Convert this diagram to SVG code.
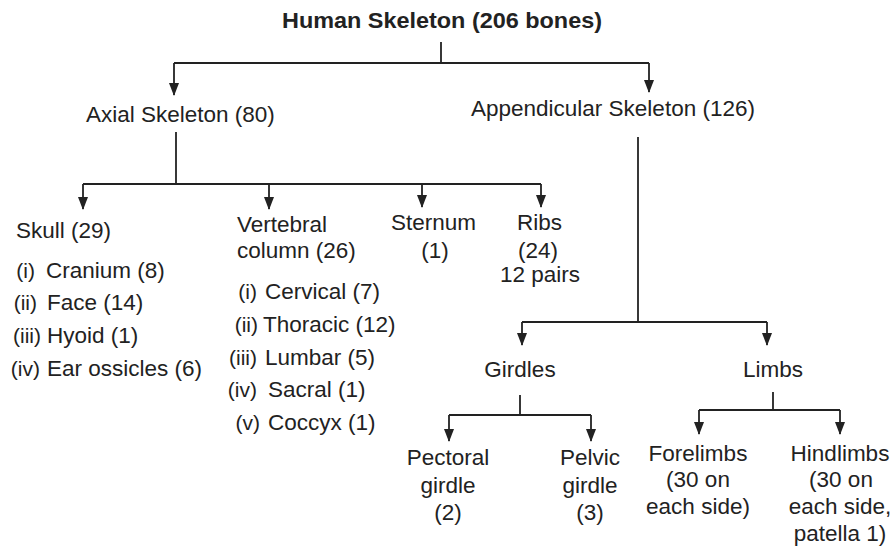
<svg xmlns="http://www.w3.org/2000/svg" width="894" height="550" viewBox="0 0 894 550">
<style>
text{font-family:"Liberation Sans",Arial,sans-serif;font-size:22.5px;fill:#222}
.title{font-weight:bold;font-size:22px}
.num{font-size:21px}
.c{text-anchor:middle}
.e{text-anchor:end}
.ln{fill:none;stroke:#222;stroke-width:1.8}
</style>
<defs>
<marker id="ah" markerUnits="userSpaceOnUse" markerWidth="10" markerHeight="12" viewBox="0 0 10 12" refX="5" refY="12" orient="auto-start-reverse">
<path d="M0,0 L10,0 L5,12 Z" fill="#222" transform="rotate(0)"/>
</marker>
</defs>
<rect width="894" height="550" fill="#fff"/>
<g id="connectors">
<path class="ln" d="M441,42 V63"/>
<path class="ln" d="M174,63 H649"/>
<path class="ln" d="M174,63 V95"/>
<path class="ln" d="M649,63 V92"/>
<path class="ln" d="M176,132 V184"/>
<path class="ln" d="M83,184 H541"/>
<path class="ln" d="M83,184 V209"/>
<path class="ln" d="M269,184 V209"/>
<path class="ln" d="M422,184 V207"/>
<path class="ln" d="M541,184 V207"/>
<path class="ln" d="M638,137 V322"/>
<path class="ln" d="M522,322 H767"/>
<path class="ln" d="M522,322 V345"/>
<path class="ln" d="M767,322 V345"/>
<path class="ln" d="M520,395 V415"/>
<path class="ln" d="M449,415 H591"/>
<path class="ln" d="M449,415 V441"/>
<path class="ln" d="M591,415 V441"/>
<path class="ln" d="M773,392 V410"/>
<path class="ln" d="M699,410 H840"/>
<path class="ln" d="M699,410 V434"/>
<path class="ln" d="M840,410 V434"/>
</g>
<g id="arrowheads" fill="#222">
<path d="M169,83 L179,83 L174,96 Z"/>
<path d="M644,80 L654,80 L649,93 Z"/>
<path d="M78,197 L88,197 L83,210 Z"/>
<path d="M264,197 L274,197 L269,210 Z"/>
<path d="M417,195 L427,195 L422,208 Z"/>
<path d="M536,195 L546,195 L541,208 Z"/>
<path d="M517,333 L527,333 L522,346 Z"/>
<path d="M762,333 L772,333 L767,346 Z"/>
<path d="M444,429 L454,429 L449,442 Z"/>
<path d="M586,429 L596,429 L591,442 Z"/>
<path d="M694,422 L704,422 L699,435 Z"/>
<path d="M835,422 L845,422 L840,435 Z"/>
</g>
<g id="human-skeleton"><text class="title c" x="442" y="28" textLength="320" lengthAdjust="spacingAndGlyphs">Human Skeleton (206 bones)</text></g>
<g id="axial"><text x="86" y="122">Axial Skeleton (80)</text></g>
<g id="appendicular"><text x="471" y="116">Appendicular Skeleton (126)</text></g>
<g id="skull">
<text x="16" y="238">Skull (29)</text>
<text class="num e" x="35" y="278">(i)</text><text x="46" y="278">Cranium (8)</text>
<text class="num e" x="37" y="310">(ii)</text><text x="47" y="310">Face (14)</text>
<text class="num e" x="41" y="343">(iii)</text><text x="47" y="343">Hyoid (1)</text>
<text class="num e" x="40" y="376">(iv)</text><text x="47" y="376">Ear ossicles (6)</text>
</g>
<g id="vertebral">
<text x="237" y="232">Vertebral</text>
<text x="237" y="258">column (26)</text>
<text class="num e" x="257" y="299">(i)</text><text x="265" y="299">Cervical (7)</text>
<text class="num e" x="258" y="332">(ii)</text><text x="263" y="332">Thoracic (12)</text>
<text class="num e" x="257" y="365">(iii)</text><text x="265" y="365">Lumbar (5)</text>
<text class="num e" x="257" y="397">(iv)</text><text x="268" y="397">Sacral (1)</text>
<text class="num e" x="260" y="430">(v)</text><text x="268" y="430">Coccyx (1)</text>
</g>
<g id="sternum">
<text x="391" y="230">Sternum</text>
<text class="c" x="435" y="258">(1)</text>
</g>
<g id="ribs">
<text x="517" y="230">Ribs</text>
<text class="c" x="538" y="258">(24)</text>
<text x="500" y="282">12 pairs</text>
</g>
<g id="girdles"><text class="c" x="520" y="377">Girdles</text></g>
<g id="limbs"><text class="c" x="773" y="377">Limbs</text></g>
<g id="pectoral">
<text class="c" x="448" y="465">Pectoral</text>
<text class="c" x="448" y="493">girdle</text>
<text class="c" x="448" y="520">(2)</text>
</g>
<g id="pelvic">
<text class="c" x="590" y="465">Pelvic</text>
<text class="c" x="590" y="493">girdle</text>
<text class="c" x="590" y="520">(3)</text>
</g>
<g id="forelimbs">
<text class="c" x="698" y="461">Forelimbs</text>
<text class="c" x="698" y="487">(30 on</text>
<text class="c" x="698" y="514">each side)</text>
</g>
<g id="hindlimbs">
<text class="c" x="840" y="461">Hindlimbs</text>
<text class="c" x="841" y="487">(30 on</text>
<text class="c" x="840" y="514">each side,</text>
<text class="c" x="840" y="541">patella 1)</text>
</g>
</svg>
